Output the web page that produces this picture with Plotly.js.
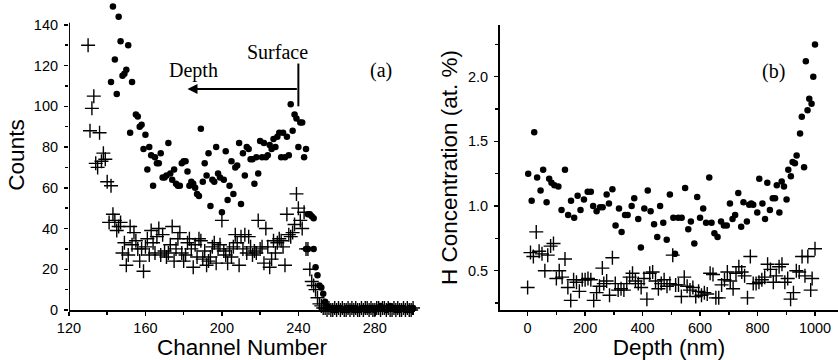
<!DOCTYPE html>
<html>
<head>
<meta charset="utf-8">
<script src="https://cdn.plot.ly/plotly-3.0.1.min.js"></script>
<style>html,body{margin:0;padding:0;background:#fff;}</style>
</head>
<body>
<div id="chart" style="width:838px;height:360px;"></div>
<script>
// ---------- Panel (a): counts vs channel ----------
const dotChannel = [142,143,144,145,146,147,148,149,150,151,152,153,155,156,157,158,159,160,161,162,163,164,165,166,167,168,169,170,171,172,173,174,175,176,177,178,179,180,181,182,183,184,185,186,187,188,189,190,191,192,193,194,195,196,197,198,199,200,201,202,203,204,205,206,207,208,209,210,211,212,213,214,215,216,217,218,219,220,221,222,223,224,225,226,227,228,229,230,231,232,233,234,235,236,237,238,239,240,241,242,243,244,244,245,245,246,247,248,248,249,250,251,252,253,
254,255,256,257,258,259,260,261,262,263,264,265,266,267,268,269,270,271,272,273,274,275,276,277,278,279,280,281,282,283,284,285,286,287,288,289,290,291,292,293,294,295,296,297,298,299,300];
const dotCounts = [112,149,123,106,144,132,115,116,118,130,87,112,96,95,90,91,79,86,69,80,76,61,75,72,72,77,65,65,66,82,67,64,69,62,61,61,72,73,73,68,61,63,62,60,57,56,89,63,72,66,77,51,64,63,80,67,65,48,64,78,54,61,73,57,70,71,82,52,77,66,80,79,74,74,62,75,67,83,75,82,75,76,81,79,84,80,85,87,75,87,75,85,76,101,88,96,94,80,92,92,75,79,30,47,30,47,46,45,30,21,17,12,11,8,
4,2,1,1,0,1,0,1,1,0,0,1,0,1,1,0,1,0,0,1,1,0,1,0,1,1,0,1,1,2,1,1,0,1,2,1,1,0,1,0,1,1,0,0,1,0,1];

const crossChannel = [130,131,132,133,134,135,136,137,138,139,140,141,142,143,144,145,146,147,148,149,150,151,152,153,154,155,156,157,158,159,160,161,162,163,164,165,166,167,168,169,170,171,172,173,174,175,176,177,178,179,180,181,182,183,184,185,186,187,188,189,190,191,192,193,194,195,196,197,198,199,200,201,202,203,204,205,206,207,208,209,210,211,212,213,214,215,216,217,218,219,220,221,222,223,224,225,226,227,228,229,230,231,232,233,234,235,236,237,238,239,240,241,242,243,244,245,246,247,248,249,250,251,252,
253,254,255,256,257,258,259,260,261,262,263,264,265,266,267,268,269,270,271,272,273,274,275,276,277,278,279,280,281,282,283,284,285,286,287,288,289,290,291,292,293,294,295,296,297,298,299,300];
const crossCounts = [130,88,99,105,72,70,87,73,77,74,63,43,61,47,44,39,41,43,28,33,22,27,41,32,38,34,30,24,30,19,31,35,27,39,33,28,36,40,27,37,29,26,28,32,41,24,30,35,38,28,24,27,33,35,30,21,32,26,35,34,25,29,22,24,26,31,33,23,30,32,44,29,27,23,30,26,31,37,33,22,36,30,37,28,36,31,27,29,28,44,30,31,23,40,31,21,25,34,28,33,35,34,31,22,47,37,36,38,42,57,50,44,40,48,30,30,20,14,12,10,6,3,2,
1,1,0,1,0,0,1,0,1,0,1,0,0,1,0,1,0,1,0,0,1,0,1,1,0,1,0,0,1,1,0,1,1,0,1,0,0,1,0,1,0,0,1,0,1,0,0,1];

// ---------- Panel (b): H concentration vs depth ----------
const dotDepth = [2,14,23,33,45,54,66,75,83,93,107,118,130,141,151,162,174,184,196,209,220,228,240,252,261,275,283,295,306,318,327,339,348,362,371,385,394,406,418,428,440,451,461,472,484,495,507,513,524,536,548,559,568,580,590,600,611,621,632,640,650,661,673,683,693,704,713,722,733,743,751,763,771,778,785,799,806,817,826,834,843,853,861,867,876,884,892,901,907,916,922,930,936,948,954,962,968,974,980,988,994,1000];
const dotConc = [1.25,1.04,1.57,1.22,1.12,1.28,1.03,1.21,1.18,1.16,1.15,0.97,1.28,0.93,1.04,0.91,1.08,0.97,1.05,1.11,1.11,1.00,0.96,0.99,0.99,1.09,1.02,1.13,0.85,0.98,0.80,0.93,0.93,1.00,1.06,0.90,0.68,0.98,1.12,0.96,0.86,0.76,1.00,0.87,0.74,1.09,0.91,0.63,0.91,0.91,1.14,0.82,0.88,0.71,1.07,0.91,0.98,0.87,1.22,0.87,0.79,0.76,0.88,0.85,0.85,1.02,0.90,0.93,1.10,0.84,1.03,0.88,1.01,1.02,1.01,0.95,1.21,1.02,0.90,1.18,0.97,1.06,1.06,1.16,0.95,1.19,1.15,1.05,1.28,1.23,1.34,1.33,1.39,1.56,1.69,1.30,2.12,1.74,1.83,1.79,2.00,2.25];

const crossDepth = [0,10,20,30,40,50,60,70,80,90,100,110,120,130,140,150,160,170,180,190,200,210,220,230,240,250,260,265,275,285,295,305,315,325,335,345,355,365,375,385,395,405,415,425,435,445,455,465,475,485,495,505,515,525,535,545,555,565,575,585,595,605,615,625,635,645,655,665,675,685,695,705,715,725,735,745,755,765,775,785,795,805,815,825,835,845,855,865,875,885,895,905,915,925,935,945,955,965,975,985,990,1000];
const crossConc = [0.37,0.64,0.61,0.80,0.65,0.63,0.50,0.62,0.69,0.71,0.44,0.50,0.45,0.59,0.37,0.27,0.43,0.41,0.34,0.43,0.43,0.44,0.43,0.27,0.33,0.38,0.52,0.40,0.42,0.31,0.60,0.40,0.35,0.36,0.35,0.40,0.45,0.48,0.42,0.40,0.37,0.44,0.28,0.48,0.49,0.42,0.36,0.40,0.43,0.38,0.40,0.62,0.39,0.39,0.30,0.45,0.38,0.35,0.37,0.30,0.34,0.31,0.33,0.32,0.48,0.47,0.29,0.29,0.39,0.43,0.49,0.42,0.36,0.48,0.53,0.49,0.46,0.29,0.61,0.40,0.40,0.41,0.43,0.45,0.55,0.51,0.41,0.46,0.53,0.55,0.41,0.44,0.28,0.33,0.50,0.49,0.61,0.46,0.61,0.35,0.44,0.67];

// ---------- Tick labels ----------
const ticksA_x = [120,160,200,240,280];
const ticksA_y = [0,20,40,60,80,100,120,140];
const minorA_y = [10,30,50,70,90,110,130];
const ticksB_x = [0,200,400,600,800,1000];
const ticksB_y = [0.5,1.0,1.5,2.0];

const dotMarker = {symbol:'circle', size:6.5, color:'#000'};
const crossMarker = {symbol:'cross-thin-open', size:10, color:'#000', line:{color:'#000', width:1.4}};

const traces = [
  {x:dotChannel, y:dotCounts, type:'scatter', mode:'markers', marker:dotMarker, cliponaxis:false, xaxis:'x', yaxis:'y'},
  {x:crossChannel, y:crossCounts, type:'scatter', mode:'markers', marker:crossMarker, cliponaxis:false, xaxis:'x', yaxis:'y'},
  {x:dotDepth, y:dotConc, type:'scatter', mode:'markers', marker:dotMarker, cliponaxis:false, xaxis:'x2', yaxis:'y2'},
  {x:crossDepth, y:crossConc, type:'scatter', mode:'markers', marker:crossMarker, cliponaxis:false, xaxis:'x2', yaxis:'y2'}
];

const axCommon = {
  showline:true, linewidth:2, linecolor:'#000', mirror:false,
  ticks:'outside', ticklen:4, tickwidth:1.5, tickcolor:'#000',
  showgrid:false, zeroline:false,
  tickfont:{family:'Liberation Sans, Arial, sans-serif', size:14.5, color:'#000'}
};
const titleFont = {family:'Liberation Sans, Arial, sans-serif', size:22.5, color:'#000'};
const serif = {family:'Liberation Serif, Times New Roman, serif', size:20, color:'#000'};

const layout = {
  width:838, height:360,
  margin:{l:0, r:0, t:0, b:0},
  paper_bgcolor:'#fff', plot_bgcolor:'#fff',
  showlegend:false,
  xaxis: Object.assign({}, axCommon, {
    domain:[0.0823, 0.4952], range:[120, 301], anchor:'y',
    tickmode:'array', tickvals:ticksA_x, ticktext:ticksA_x.map(String),
    minor:{dtick:20, tick0:120, ticks:'outside', ticklen:3, tickwidth:1.5, tickcolor:'#000'},
    title:{text:'Channel Number', font:titleFont, standoff:2}
  }),
  yaxis: Object.assign({}, axCommon, {
    domain:[0.1389, 1.0], range:[0, 152.2], anchor:'x', showline:false, ticklabelstandoff:3,
    tickmode:'array', tickvals:ticksA_y, ticktext:ticksA_y.map(String),
    minor:{tickmode:'array', tickvals:minorA_y, ticks:'outside', ticklen:3, tickwidth:1.5, tickcolor:'#000'},
    title:{text:'Counts', font:titleFont, standoff:2}
  }),
  xaxis2: Object.assign({}, axCommon, {
    domain:[0.5967, 1.0], range:[-96, 1080], anchor:'y2',
    tickmode:'array', tickvals:ticksB_x, ticktext:ticksB_x.map(String),
    minor:{dtick:100, tick0:0, ticks:'outside', ticklen:3, tickwidth:1.5, tickcolor:'#000'},
    title:{text:'Depth (nm)', font:titleFont, standoff:2}
  }),
  yaxis2: Object.assign({}, axCommon, {
    domain:[0.1389, 0.9306], range:[0.196, 2.4], anchor:'x2', ticklabelstandoff:3,
    tickmode:'array', tickvals:ticksB_y, ticktext:ticksB_y.map(v => v.toFixed(1)),
    minor:{dtick:0.25, tick0:0, ticks:'outside', ticklen:3, tickwidth:1.5, tickcolor:'#000'},
    title:{text:'H Concentration (at. %)', font:titleFont, standoff:4}
  }),
  shapes:[
    {type:'line', xref:'x', yref:'y', x0:120, x1:120, y0:-0.5, y1:141, line:{color:'#000', width:2}},
    {type:'line', xref:'x', yref:'y', x0:240, x1:240, y0:100, y1:121, line:{color:'#000', width:2}}
  ],
  annotations:[
    {xref:'x', yref:'y', x:229.3, y:126.7, text:'Surface', showarrow:false, font:serif},
    {xref:'x', yref:'y', x:185.4, y:117.4, text:'Depth', showarrow:false, font:serif},
    {xref:'x', yref:'y', x:283.1, y:117.4, text:'(a)', showarrow:false, font:serif},
    {xref:'x2', yref:'y2', x:857, y:2.037, text:'(b)', showarrow:false, font:serif},
    {xref:'x', yref:'y', x:182, y:108.5, axref:'x', ayref:'y', ax:240, ay:108.5, text:'', showarrow:true,
     arrowhead:2, arrowsize:1, arrowwidth:2, arrowcolor:'#000', standoff:0, startstandoff:0}
  ]
};

Plotly.newPlot('chart', traces, layout, {displayModeBar:false, staticPlot:true});
</script>
</body>
</html>
